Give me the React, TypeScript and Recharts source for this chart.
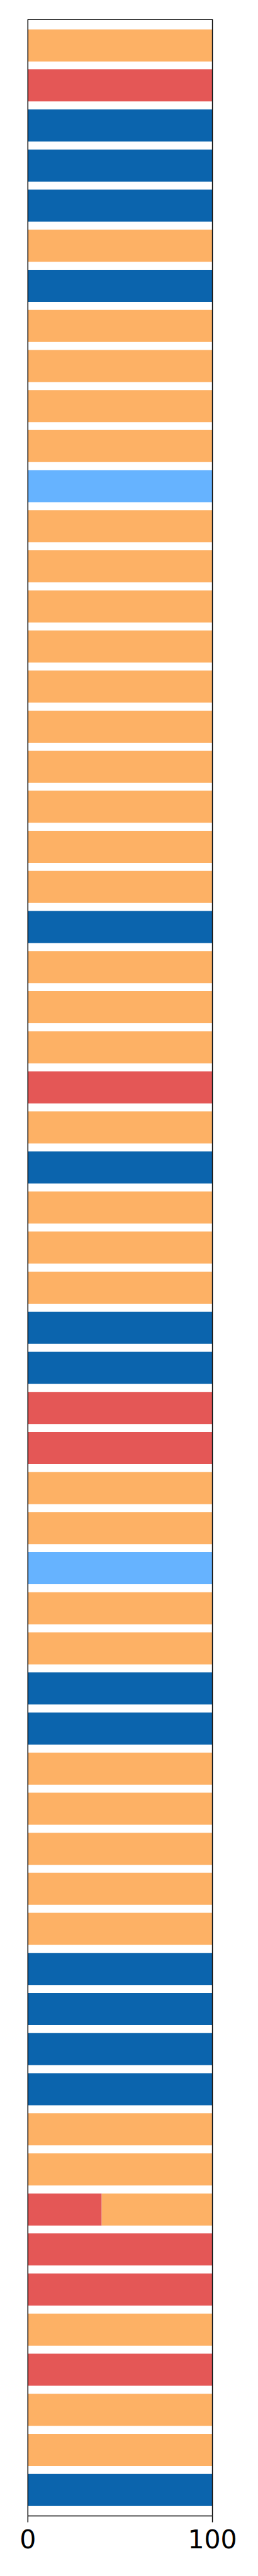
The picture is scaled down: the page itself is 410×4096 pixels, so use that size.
import { Bar, BarChart, XAxis, YAxis } from "recharts";

const categories = [
  "1", "2", "3", "4", "5", "6", "7", "8", "9", "10",
  "11", "12", "13", "14", "15", "16", "17", "18", "19", "20",
  "21", "22", "23", "24", "25", "26", "27", "28", "29", "30",
  "31", "32", "33", "34", "35", "36", "37", "38", "39", "40",
  "41", "42", "43", "44", "45", "46", "47", "48", "49", "50",
  "51", "52", "53", "54", "55", "56", "57", "58", "59", "60",
  "61", "62",
];

const red = [
  0, 100, 0, 0, 0, 0, 0, 0, 0, 0,
  0, 0, 0, 0, 0, 0, 0, 0, 0, 0,
  0, 0, 0, 0, 0, 0, 100, 0, 0, 0,
  0, 0, 0, 0, 100, 100, 0, 0, 0, 0,
  0, 0, 0, 0, 0, 0, 0, 0, 0, 0,
  0, 0, 0, 0, 40, 100, 100, 0, 100, 0,
  0, 0,
];

const orange = [
  100, 0, 0, 0, 0, 100, 0, 100, 100, 100,
  100, 0, 100, 100, 100, 100, 100, 100, 100, 100,
  100, 100, 0, 100, 100, 100, 0, 100, 0, 100,
  100, 100, 0, 0, 0, 0, 100, 100, 0, 100,
  100, 0, 0, 100, 100, 100, 100, 100, 0, 0,
  0, 0, 100, 100, 60, 0, 0, 100, 0, 100,
  100, 0,
];

const blue = [
  0, 0, 100, 100, 100, 0, 100, 0, 0, 0,
  0, 0, 0, 0, 0, 0, 0, 0, 0, 0,
  0, 0, 100, 0, 0, 0, 0, 0, 100, 0,
  0, 0, 100, 100, 0, 0, 0, 0, 0, 0,
  0, 100, 100, 0, 0, 0, 0, 0, 100, 100,
  100, 100, 0, 0, 0, 0, 0, 0, 0, 0,
  0, 100,
];

const lightBlue = [
  0, 0, 0, 0, 0, 0, 0, 0, 0, 0,
  0, 100, 0, 0, 0, 0, 0, 0, 0, 0,
  0, 0, 0, 0, 0, 0, 0, 0, 0, 0,
  0, 0, 0, 0, 0, 0, 0, 0, 100, 0,
  0, 0, 0, 0, 0, 0, 0, 0, 0, 0,
  0, 0, 0, 0, 0, 0, 0, 0, 0, 0,
  0, 0,
];

const xTicks = [0, 100];

const data = categories.map((name, i) => ({
  name,
  red: red[i],
  orange: orange[i],
  blue: blue[i],
  lightBlue: lightBlue[i],
}));

const W = 410;
const H = 4096;
const AXIS_H = 60; // bottom axis band
const EDGE = 20; // room given to the frame-only axes
const font = "'DejaVu Sans', sans-serif";

export default function App() {
  return (
    <div style={{ width: W, height: H, background: "#fff" }}>
      <style>{`body { margin: 0; }`}</style>
      <BarChart
        width={W}
        height={H}
        data={data}
        layout="vertical"
        barCategoryGap="10%"
        margin={{
          top: 30.7 - EDGE,
          right: 72.4 - EDGE,
          left: 44.3 - EDGE,
          bottom: 95.4 - AXIS_H,
        }}
      >
        <XAxis
          type="number"
          domain={[0, 100]}
          ticks={xTicks}
          height={AXIS_H}
          stroke="#000"
          strokeWidth={1.5}
          tickSize={10}
          tickMargin={12}
          tick={{ fill: "#000", fontSize: 41, fontFamily: font }}
        />
        <XAxis
          xAxisId="top"
          orientation="top"
          type="number"
          domain={[0, 100]}
          height={EDGE}
          tick={false}
          tickLine={false}
          stroke="#000"
          strokeWidth={1.5}
        />
        <YAxis
          type="category"
          dataKey="name"
          width={EDGE}
          tick={false}
          tickLine={false}
          padding={{ top: 9.56, bottom: 9.56 }}
          stroke="#000"
          strokeWidth={1.5}
        />
        <YAxis
          yAxisId="right"
          orientation="right"
          type="category"
          dataKey="name"
          width={EDGE}
          tick={false}
          tickLine={false}
          stroke="#000"
          strokeWidth={1.5}
        />
        <Bar dataKey="red" stackId="a" fill="#E45756" isAnimationActive={false} />
        <Bar dataKey="orange" stackId="a" fill="#FDB165" isAnimationActive={false} />
        <Bar dataKey="blue" stackId="a" fill="#0B64AD" isAnimationActive={false} />
        <Bar dataKey="lightBlue" stackId="a" fill="#66B3FF" isAnimationActive={false} />
      </BarChart>
    </div>
  );
}
